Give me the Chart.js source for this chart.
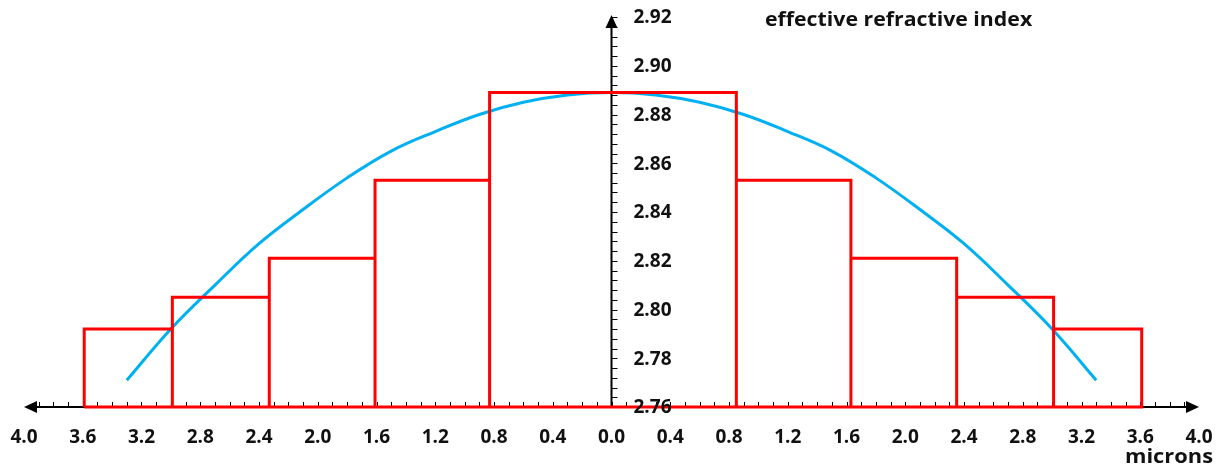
<!DOCTYPE html>
<html>
<head>
<meta charset="utf-8">
<script src="https://cdn.jsdelivr.net/npm/chart.js@4"></script>
<style>
  html, body { margin: 0; padding: 0; background: #fff; }
  #wrap { width: 1222px; height: 470px; }
</style>
</head>
<body>
<div id="wrap"><canvas id="chart"></canvas></div>
<script>
// step profile: edges (microns) and the index level between each pair of edges
const stepEdges = [-3.59, -2.99, -2.33, -1.61, -0.83, 0.85, 1.63, 2.35, 3.01, 3.61];
const stepLevels = [2.792, 2.805, 2.821, 2.853, 2.889, 2.853, 2.821, 2.805, 2.792];
const baseLevel = 2.76;

// blue smooth curve
const curveX = [-3.3, -3.0, -2.7, -2.4, -2.1, -1.8, -1.5, -1.2, -0.9, -0.6, -0.3, 0,
  0.3, 0.6, 0.9, 1.2, 1.5, 1.8, 2.1, 2.4, 2.7, 3.0, 3.3];
const curveY = [2.771, 2.792, 2.810, 2.827, 2.841, 2.854, 2.865, 2.873, 2.880, 2.885, 2.888, 2.889,
  2.888, 2.885, 2.880, 2.873, 2.865, 2.854, 2.841, 2.827, 2.810, 2.792, 2.771];

// axis ticks and labels
const xTickValues = [-4.0, -3.6, -3.2, -2.8, -2.4, -2.0, -1.6, -1.2, -0.8, -0.4, 0.0,
  0.4, 0.8, 1.2, 1.6, 2.0, 2.4, 2.8, 3.2, 3.6, 4.0];
const xTickLabels = ['4.0', '3.6', '3.2', '2.8', '2.4', '2.0', '1.6', '1.2', '0.8', '0.4', '0.0',
  '0.4', '0.8', '1.2', '1.6', '2.0', '2.4', '2.8', '3.2', '3.6', '4.0'];
const yTickValues = [2.76, 2.78, 2.80, 2.82, 2.84, 2.86, 2.88, 2.90, 2.92];
const yTickLabels = ['2.76', '2.78', '2.80', '2.82', '2.84', '2.86', '2.88', '2.90', '2.92'];

const yTitle = 'effective refractive index';
const xTitle = 'microns';

// outline of the step profile as a path of points
const stepPoints = [];
for (let i = 0; i < stepLevels.length; i++) {
  stepPoints.push({ x: stepEdges[i], y: baseLevel });
  stepPoints.push({ x: stepEdges[i], y: stepLevels[i] });
  stepPoints.push({ x: stepEdges[i + 1], y: stepLevels[i] });
}
stepPoints.push({ x: stepEdges[stepEdges.length - 1], y: baseLevel });
stepPoints.push({ x: stepEdges[0], y: baseLevel });

const curvePoints = curveX.map((x, i) => ({ x: x, y: curveY[i] }));

const FONT = 'bold 19px "Open Sans", "Liberation Sans", sans-serif';

function arrowHead(ctx, tipX, tipY, dir) {
  // dir: 'left' | 'right' | 'up'
  const len = 13, half = 6;
  ctx.beginPath();
  if (dir === 'left') {
    ctx.moveTo(tipX, tipY);
    ctx.lineTo(tipX + len, tipY - half);
    ctx.lineTo(tipX + len, tipY + half);
  } else if (dir === 'right') {
    ctx.moveTo(tipX, tipY);
    ctx.lineTo(tipX - len, tipY - half);
    ctx.lineTo(tipX - len, tipY + half);
  } else {
    ctx.moveTo(tipX, tipY);
    ctx.lineTo(tipX - half, tipY + len);
    ctx.lineTo(tipX + half, tipY + len);
  }
  ctx.closePath();
  ctx.fill();
}

// text slightly stretched sideways, the original font is wider than what we have
function wideText(ctx, text, x, y, sx, align) {
  ctx.save();
  const w = ctx.measureText(text).width * sx;
  const left = align === 'right' ? x - w : x;
  ctx.translate(left, y);
  ctx.scale(sx, 1);
  ctx.textAlign = 'left';
  ctx.fillText(text, 0, 0);
  ctx.restore();
}

// draws the cross axes: x axis along the bottom, y axis through x = 0
const axesPlugin = {
  id: 'crossAxes',
  beforeDatasetsDraw(chart) {
    const ctx = chart.ctx;
    const xs = chart.scales.x, ys = chart.scales.y;
    const y0 = ys.getPixelForValue(2.76);
    const x0 = xs.getPixelForValue(0);
    const xl = xs.getPixelForValue(-4), xr = xs.getPixelForValue(4);
    const yt = ys.getPixelForValue(2.92);
    ctx.save();
    ctx.strokeStyle = '#000';
    ctx.fillStyle = '#000';
    ctx.lineWidth = 2;
    ctx.beginPath();
    ctx.moveTo(xl + 4, y0); ctx.lineTo(xr - 4, y0);
    ctx.moveTo(x0, y0); ctx.lineTo(x0, yt + 4);
    ctx.stroke();
    arrowHead(ctx, xl, y0, 'left');
    arrowHead(ctx, xr, y0, 'right');
    arrowHead(ctx, x0, yt - 2, 'up');

    // minor ticks
    ctx.lineWidth = 1;
    ctx.beginPath();
    for (let k = -39; k <= 39; k++) {
      const px = Math.round(xs.getPixelForValue(k / 10)) + 0.5;
      ctx.moveTo(px, y0);
      ctx.lineTo(px, y0 - 5);
    }
    for (let k = 0; k <= 40; k++) {
      const py = Math.round(ys.getPixelForValue(2.76 + k * 0.004)) + 0.5;
      ctx.moveTo(x0, py);
      ctx.lineTo(x0 + 6, py);
    }
    ctx.stroke();
    ctx.restore();
  },
  afterDraw(chart) {
    const ctx = chart.ctx;
    const xs = chart.scales.x, ys = chart.scales.y;
    const x0 = xs.getPixelForValue(0);
    ctx.save();
    ctx.fillStyle = '#111';
    ctx.font = FONT;
    ctx.textBaseline = 'middle';
    ctx.textAlign = 'center';
    xTickValues.forEach((v, i) => {
      ctx.fillText(xTickLabels[i], xs.getPixelForValue(v), 438);
    });
    ctx.textAlign = 'left';
    yTickValues.forEach((v, i) => {
      ctx.fillText(yTickLabels[i], x0 + 22, ys.getPixelForValue(v) + 1);
    });
    wideText(ctx, yTitle, 765, 21, 1.12, 'left');
    wideText(ctx, xTitle, 1213, 458, 1.15, 'right');
    ctx.restore();
  }
};

new Chart(document.getElementById('chart'), {
  type: 'scatter',
  data: {
    datasets: [
      {
        label: 'step profile',
        data: stepPoints,
        showLine: true,
        borderColor: '#ff0000',
        borderWidth: 3,
        pointRadius: 0,
        tension: 0,
        clip: false
      },
      {
        label: 'effective index',
        data: curvePoints,
        showLine: true,
        borderColor: '#00b0f0',
        borderWidth: 3,
        pointRadius: 0,
        tension: 0.4,
        clip: false
      }
    ]
  },
  options: {
    responsive: true,
    maintainAspectRatio: false,
    animation: false,
    layout: { padding: { left: 24, right: 23, top: 17, bottom: 63 } },
    plugins: {
      legend: { display: false },
      tooltip: { enabled: false }
    },
    scales: {
      x: { type: 'linear', min: -4, max: 4, display: false },
      y: { type: 'linear', min: 2.76, max: 2.92, display: false }
    }
  },
  plugins: [axesPlugin]
});
</script>
</body>
</html>
